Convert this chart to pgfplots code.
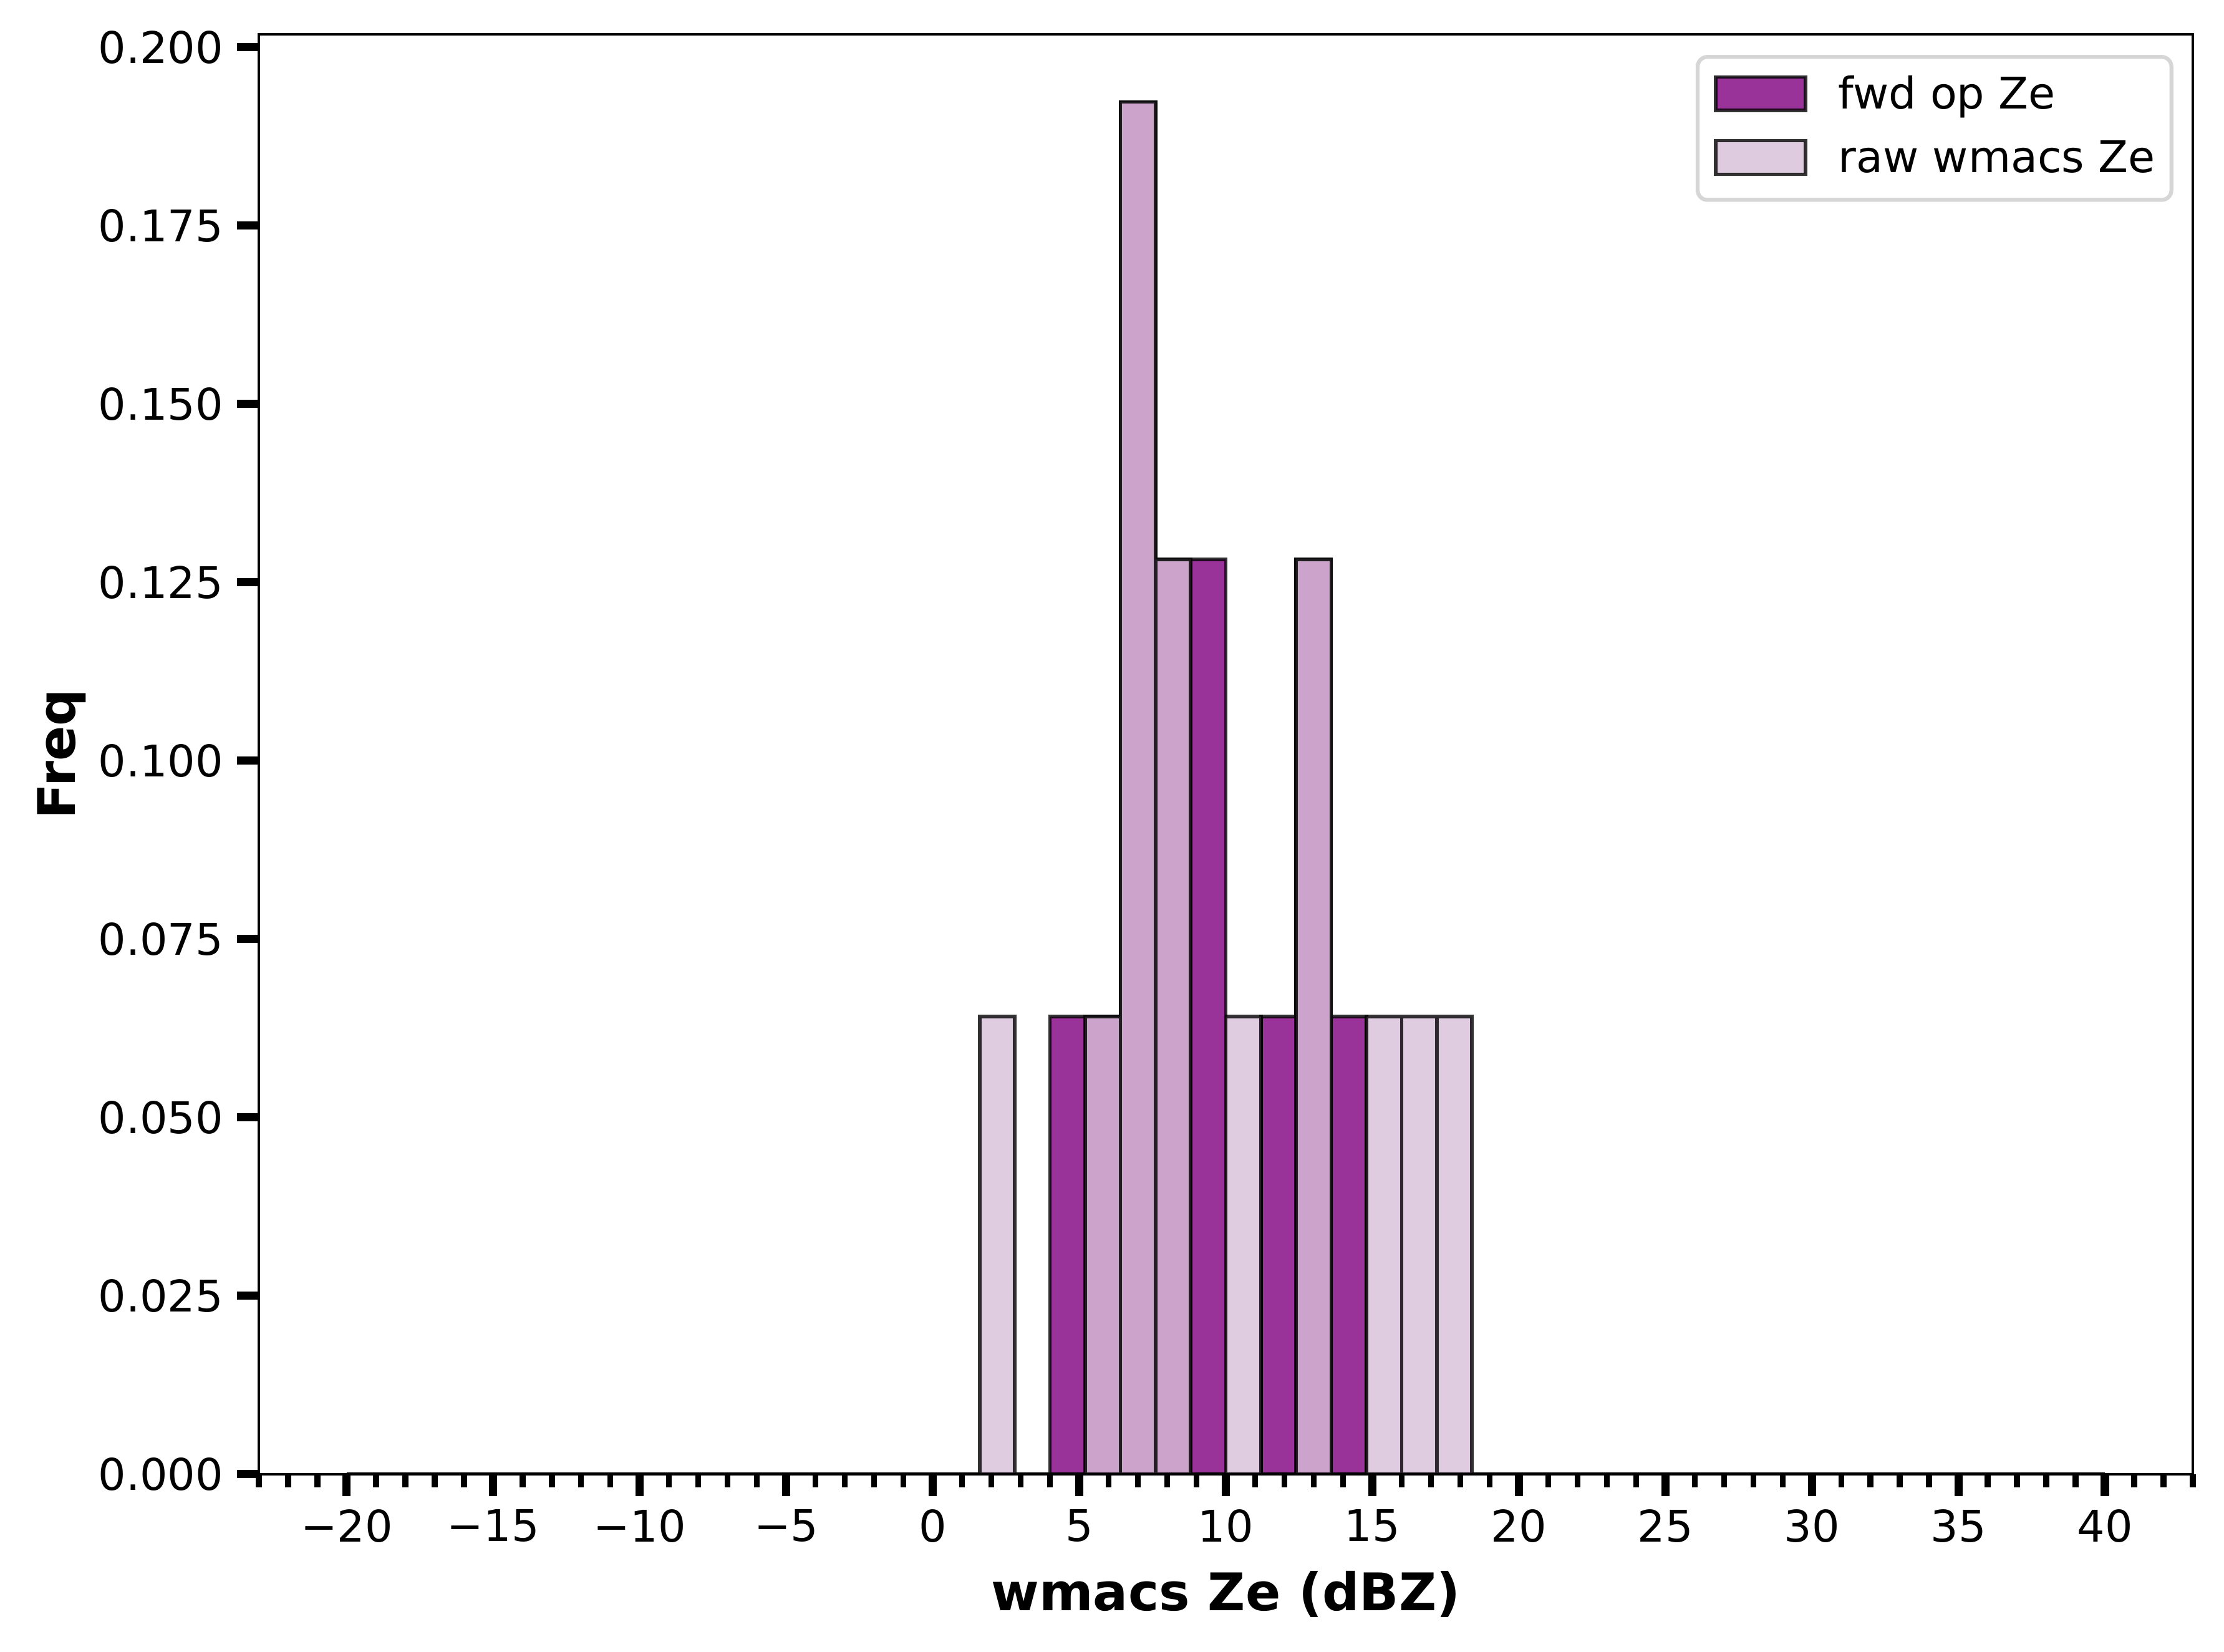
\documentclass[border=0pt]{standalone}
\usepackage{fontspec}
\setmainfont{DejaVu Sans}
\usepackage{pgfplots}
\pgfplotsset{compat=1.18}
\definecolor{fwdc}{RGB}{128,0,128}
\definecolor{rawc}{RGB}{216,191,216}
\definecolor{legframe}{RGB}{214,214,214}
\pgfplotsset{histlegend/.style={legend image code/.code={\draw[##1, sharp corners] (0pt,-0.5pt) rectangle (23pt,8.1pt);}}}

\begin{document}
\begin{tikzpicture}
\path[use as bounding box] (-66.4pt,-45.6pt) rectangle (504.2pt,378.2pt);
\begin{axis}[
  at={(0pt,0pt)}, anchor=south west,
  scale only axis, width=496.2pt, height=369.4pt,
  xmin=-23, xmax=43, ymin=0, ymax=0.2018,
  clip=false, axis on top,
  tick align=outside, tick pos=left,
  xtick={-20,-15,...,40},
  xticklabels={−20,−15,−10,−5,0,5,10,15,20,25,30,35,40},
  minor xtick={-23,-22,...,43},
  ytick={0,0.025,0.05,0.075,0.1,0.125,0.15,0.175,0.2},
  yticklabels={0.000,0.025,0.050,0.075,0.100,0.125,0.150,0.175,0.200},
  major tick length=5.6pt, minor tick length=3.4pt,
  major tick style={line width=2.1pt, black},
  minor tick style={line width=1.5pt, black},
  axis line style={line width=0.64pt, black},
  tick label style={font=\fontsize{11.2}{13}\selectfont},
  every axis x label/.style={at={(axis description cs:0.5,0)}, yshift=-35pt, anchor=base, font=\fontsize{13.3}{16}\selectfont\bfseries},
  every axis y label/.style={at={(axis description cs:0,0.5)}, xshift=-47.1pt, rotate=90, anchor=base, font=\fontsize{13.3}{16}\selectfont\bfseries},
  xlabel={wmacs Ze (dBZ)}, ylabel={Freq},
  legend cell align=left,
  legend style={at={(1,1)}, anchor=north east, xshift=-5pt, yshift=-5.3pt,
    draw=legframe, line width=1pt, rounded corners=2.5pt, fill=white,
    inner xsep=4.2pt, inner ysep=4.7pt, row sep=5.4pt, column sep=0pt,
    font=\fontsize{11.2}{13}\selectfont,
    nodes={inner sep=0pt, text height=8.4pt, text depth=2.4pt, anchor=base west},
    /tikz/every odd column/.append style={column sep=8pt}},
]
\addplot[ybar interval, fill=fwdc, fill opacity=0.8, draw=black, draw opacity=0.8, line width=0.9pt, histlegend]
  coordinates {(-20,0) (4.0,0.0641) (5.2,0.0641) (6.4,0.1923) (7.6,0.1282) (8.8,0.1282) (10.0,0) (11.2,0.0641) (12.4,0.1282) (13.6,0.0641) (14.8,0) (40,0)};
\addlegendentry{fwd op Ze}
\addplot[ybar interval, fill=rawc, fill opacity=0.8, draw=black, draw opacity=0.8, line width=0.9pt, histlegend]
  coordinates {(-20,0) (1.6,0.0641) (2.8,0) (5.2,0.0641) (6.4,0.1923) (7.6,0.1282) (8.8,0) (10.0,0.0641) (11.2,0) (12.4,0.1282) (13.6,0) (14.8,0.0641) (16.0,0.0641) (17.2,0.0641) (18.4,0) (40,0)};
\addlegendentry{raw wmacs Ze}
\end{axis}
\end{tikzpicture}
\end{document}
